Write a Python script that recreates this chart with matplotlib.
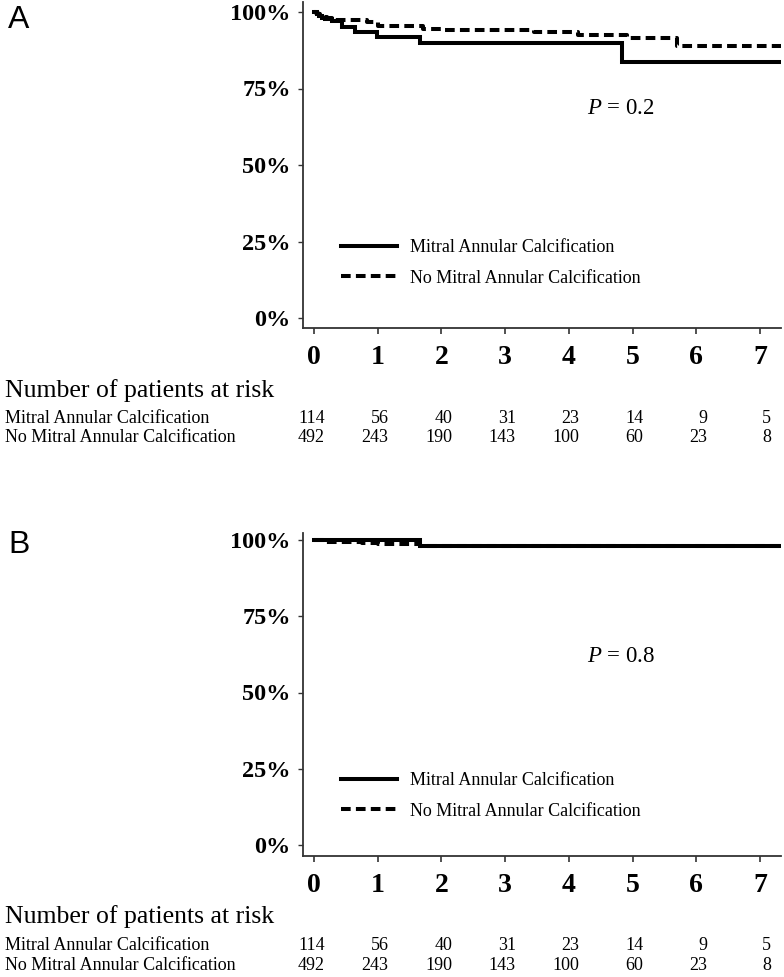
import matplotlib
matplotlib.use("Agg")
import matplotlib.pyplot as plt
from matplotlib.lines import Line2D

plt.rcParams['font.family'] = ['Liberation Serif', 'DejaVu Serif']
plt.rcParams['mathtext.fontset'] = 'custom'
plt.rcParams['mathtext.rm'] = 'Liberation Serif'
plt.rcParams['mathtext.it'] = 'Liberation Serif:italic'

# ---------------- data ----------------
years = [0, 1, 2, 3, 4, 5, 6, 7]
y_ticks = [0, 0.25, 0.5, 0.75, 1.0]
y_tick_labels = ["0%", "25%", "50%", "75%", "100%"]
group_labels = ["Mitral Annular Calcification", "No Mitral Annular Calcification"]

# Panel A
a_mac_t = [0, 0.04, 0.08, 0.13, 0.18, 0.28, 0.44, 0.64, 0.99, 1.66, 4.83, 7.33]
a_mac_s = [1.0, 0.994, 0.988, 0.982, 0.976, 0.971, 0.952, 0.934, 0.919, 0.898, 0.838, 0.838]
a_nomac_t = [0, 0.03, 0.06, 0.10, 0.15, 0.20, 0.28, 0.83, 1.0, 1.71, 2.0, 3.46, 4.14, 4.92, 5.69, 7.33]
a_nomac_s = [1.0, 0.996, 0.992, 0.988, 0.984, 0.979, 0.974, 0.966, 0.953, 0.946, 0.941, 0.934, 0.925, 0.914, 0.889, 0.889]
a_p = "0.2"

# Panel B
b_mac_t = [0, 1.66, 7.33]
b_mac_s = [1.0, 0.980, 0.980]
b_nomac_t = [0, 0.17, 0.75, 1.0, 1.66, 7.33]
b_nomac_s = [1.0, 0.993, 0.990, 0.986, 0.980, 0.980]
b_p = "0.8"

risk_mac = [114, 56, 40, 31, 23, 14, 9, 5]
risk_nomac = [492, 243, 190, 143, 100, 60, 23, 8]

# ---------------- figure ----------------
W, H = 784, 977
fig = plt.figure(figsize=(W / 100, H / 100), dpi=100)

X0, X1 = -0.172, 7.33
DASH = (0, (2.4, 1.3))


def px_axes(left, top, right, bottom):
    return fig.add_axes([left / W, 1 - bottom / H, (right - left) / W, (bottom - top) / H])


def panel(top_px, y100_px, y0_px, bottom_px, mac_t, mac_s, nomac_t, nomac_s, pval, p_y, leg_y):
    ax = px_axes(303, top_px, 781, bottom_px)
    per = (y0_px - y100_px)
    ylo = -(bottom_px - y0_px) / per
    yhi = 1 + (y100_px - top_px) / per
    ax.step(mac_t, mac_s, where='post', color='black', lw=2.9, solid_joinstyle='miter')
    ax.step(nomac_t, nomac_s, where='post', color='black', lw=2.9,
            linestyle=DASH, dash_capstyle='butt')
    ax.set_xlim(X0, X1)
    ax.set_ylim(ylo, yhi)
    for s in ['top', 'right']:
        ax.spines[s].set_visible(False)
    for s in ['left', 'bottom']:
        ax.spines[s].set_linewidth(1.3)
        ax.spines[s].set_color('#333333')
    ax.set_xticks(years)
    ax.set_xticklabels([str(v) for v in years], fontsize=20, fontweight='bold')
    ax.set_yticks(y_ticks)
    ax.set_yticklabels(y_tick_labels, fontsize=17.5, fontweight='bold')
    ax.tick_params(axis='x', length=4.5, width=1.2, pad=8, color='#333333')
    ax.tick_params(axis='y', length=3.8, width=1.0, pad=5, color='#333333')
    # p-value
    fig.text(587 / W, 1 - p_y / H, r'$P$ = ' + pval, fontsize=16.5, va='center', ha='left')
    # legend
    ax.legend([Line2D([], [], color='black', lw=2.9),
               Line2D([], [], color='black', lw=2.9, linestyle=DASH)],
              group_labels, loc='upper left', frameon=False, fontsize=13,
              handlelength=3.1, handletextpad=0.7, labelspacing=0.75,
              bbox_to_anchor=(325 / W, 1 - leg_y / H), bbox_transform=fig.transFigure)
    return ax


axA = panel(2, 12, 318, 328, a_mac_t, a_mac_s, a_nomac_t, a_nomac_s, a_p, 108, 223)
axB = panel(533, 540, 845, 856, b_mac_t, b_mac_s, b_nomac_t, b_nomac_s, b_p, 656, 756)

# panel letters
fig.text(8 / W, 1 - 20 / H, "A", family='Liberation Sans', fontsize=23, va='center', ha='left')
fig.text(8 / W, 1 - 545 / H, "B", family='Liberation Sans', fontsize=23, va='center', ha='left')


# risk tables
def risk_table(ax, title_y, row1_y, row2_y):
    fig.text(5 / W, 1 - title_y / H, "Number of patients at risk", fontsize=18.5, va='center', ha='left')
    fig.text(5 / W, 1 - row1_y / H, group_labels[0], fontsize=13, va='center', ha='left')
    fig.text(5 / W, 1 - row2_y / H, group_labels[1], fontsize=13, va='center', ha='left')
    for yr, m, n in zip(years, risk_mac, risk_nomac):
        xr = yr + 0.17
        xf = fig.transFigure.inverted().transform(ax.transData.transform((xr, 0)))[0]
        fig.text(xf, 1 - row1_y / H, str(m), fontsize=13, va='center', ha='right')
        fig.text(xf, 1 - row2_y / H, str(n), fontsize=13, va='center', ha='right')


risk_table(axA, 391, 418, 438)
risk_table(axB, 917, 945, 965)

fig.savefig("out.png", dpi=100, facecolor='white')
